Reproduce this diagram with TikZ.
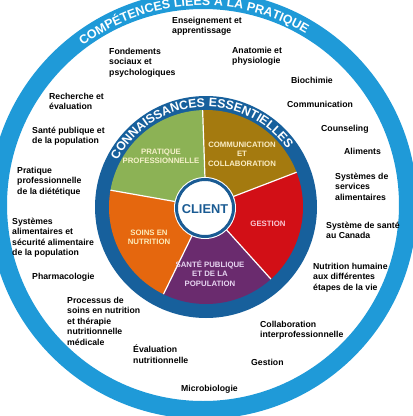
\documentclass[tikz,border=0pt]{standalone}
\usepackage{fontspec}
\setmainfont{Liberation Sans}
\usetikzlibrary{decorations.text}
\definecolor{outerblue}{HTML}{1F9AD8}
\definecolor{ringblue}{HTML}{17609C}
\definecolor{secgreen}{HTML}{8CB255}
\definecolor{secbrown}{HTML}{A47A0F}
\definecolor{secred}{HTML}{D20F16}
\definecolor{secpurple}{HTML}{6A2B6E}
\definecolor{secorange}{HTML}{E5670E}
\definecolor{clientblue}{HTML}{1A5B93}
\definecolor{lblgreen}{HTML}{F4F0C8}
\definecolor{lblbrown}{HTML}{FAEDC4}
\definecolor{lblred}{HTML}{F8C8D4}
\definecolor{lblpurple}{HTML}{E6D4F0}
\definecolor{lblorange}{HTML}{FCEAB8}
\begin{document}
\begin{tikzpicture}[x=1pt,y=-1pt,
  lbl/.style={anchor=north west, inner sep=0pt, align=left, font=\fontsize{8.7}{10.4}\selectfont\bfseries, text=black},
  seclbl/.style={inner sep=0pt, align=center, font=\fontsize{7.8}{9.5}\selectfont\bfseries}]
\useasboundingbox (0,0) rectangle (413,416);
\fill[white] (0,0) rectangle (413,416);
% outer ring
\begin{scope}[shift={(203,205)}, y=1pt]
  \fill[outerblue, even odd rule] (0,0) circle (214) (0,0) circle (196);
  \path[decorate, decoration={text along path, text align=center,
    text={|\fontsize{12.5}{12.5}\selectfont\bfseries\color{white}|COMPÉTENCES LIÉES À LA PRATIQUE}}]
    (140:199.5) arc (140:46:199.5);
\end{scope}
% inner disc
\begin{scope}[shift={(206,207)}, y=1pt]
  \fill[ringblue] (0,0) circle (111);
  \fill[secgreen]  (0,0) -- (92:97) arc (92:170:97) -- cycle;
  \fill[secbrown]  (0,0) -- (21:97) arc (21:92:97) -- cycle;
  \fill[secred]    (0,0) -- (-48:97) arc (-48:21:97) -- cycle;
  \fill[secpurple] (0,0) -- (-116:97) arc (-116:-48:97) -- cycle;
  \fill[secorange] (0,0) -- (170:97) arc (170:244:97) -- cycle;
  \foreach \a in {92,21,-48,-116,170} \draw[white, line width=1.2pt] (0,0) -- (\a:97);
  \path[decorate, decoration={text along path, text align=center,
    text={|\fontsize{12.3}{12.3}\selectfont\bfseries\color{white}|CONNAISSANCES ESSENTIELLES}}]
    (152:100) arc (152:36:100);
  \fill[white] (-1,-1) circle (31);
  \draw[clientblue, fill=white, line width=3pt] (-1,-1) circle (28.5);
\end{scope}
\node[inner sep=0pt, font=\fontsize{12.8}{12.8}\selectfont\bfseries, text=clientblue] (client) at (205,209) {CLIENT};
% sector labels
\node[seclbl, text=lblgreen]  (prat)  at (161,156.5) {PRATIQUE\\PROFESSIONNELLE};
\node[seclbl, text=lblbrown]  (comm)  at (242,154) {COMMUNICATION\\ET\\COLLABORATION};
\node[seclbl, text=lblred]    (gest)  at (268,224) {GESTION};
\node[seclbl, text=lblorange] (soins) at (149,237.5) {SOINS EN\\NUTRITION};
\node[seclbl, text=lblpurple] (sante) at (210,273.5) {SANTÉ PUBLIQUE\\ET DE LA\\POPULATION};
% outer labels
\node[lbl] (ens)    at (172,17)  {Enseignement et\\apprentissage};
\node[lbl] (fond)   at (109,48)  {Fondements\\sociaux et\\psychologiques};
\node[lbl] (anat)   at (232,47)  {Anatomie et\\physiologie};
\node[lbl] (bioc)   at (291,77)  {Biochimie};
\node[lbl] (rech)   at (49,93)   {Recherche et\\évaluation};
\node[lbl] (comml)  at (287,101) {Communication};
\node[lbl] (couns)  at (321,125) {Counseling};
\node[lbl] (sp)     at (32,127)  {Santé publique et\\de la population};
\node[lbl] (pp)     at (17,167)  {Pratique\\professionnelle\\de la diététique};
\node[lbl] (sys)    at (12,218)  {Systèmes\\alimentaires et\\sécurité alimentaire\\de la population};
\node[lbl] (pharm)  at (32,273)  {Pharmacologie};
\node[lbl] (proc)   at (67,297)  {Processus de\\soins en nutrition\\et thérapie\\nutritionnelle\\médicale};
\node[lbl] (eval)   at (133,345) {Évaluation\\nutritionnelle};
\node[lbl] (micro)  at (181,385) {Microbiologie};
\node[lbl] (gestl)  at (251,359) {Gestion};
\node[lbl] (collab) at (260,321) {Collaboration\\interprofessionnelle};
\node[lbl] (nutr)   at (313,263) {Nutrition humaine\\aux différentes\\étapes de la vie};
\node[lbl] (ssc)    at (326,222) {Système de santé\\au Canada};
\node[lbl] (ssa)    at (335,173) {Systèmes de\\services\\alimentaires};
\node[lbl] (alim)   at (344,148) {Aliments};
\end{tikzpicture}
\end{document}
